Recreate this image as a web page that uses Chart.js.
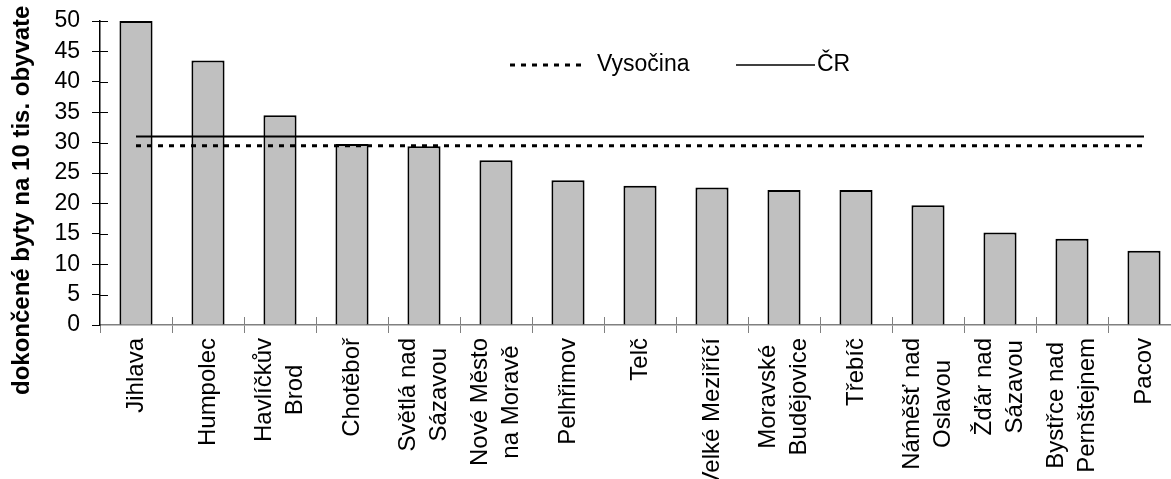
<!DOCTYPE html>
<html>
<head>
<meta charset="utf-8">
<script src="https://cdn.jsdelivr.net/npm/chart.js@4"></script>
<style>
html,body{margin:0;padding:0;background:#fff;overflow:hidden}
#wrap{width:1180px;height:479px;position:relative}
</style>
</head>
<body>
<div id="wrap"><canvas id="bytyChart"></canvas></div>
<script>
// dokoncene byty na 10 tis. obyvatel podle mest
const mesta = [
  'Jihlava', 'Humpolec', ['Havlíčkův', 'Brod'], 'Chotěboř', ['Světlá nad', 'Sázavou'],
  ['Nové Město', 'na Moravě'], 'Pelhřimov', 'Telč', 'Velké Meziříčí', ['Moravské', 'Budějovice'],
  'Třebíč', ['Náměšť nad', 'Oslavou'], ['Žďár nad', 'Sázavou'], ['Bystřce nad', 'Pernštejnem'], 'Pacov'
];
const byty = [50.0, 43.5, 34.5, 29.75, 29.4, 27.1, 23.8, 22.9, 22.6, 22.2, 22.2, 19.7, 15.2, 14.2, 12.2];
const vysocina = [29.5, 29.5, 29.5, 29.5, 29.5, 29.5, 29.5, 29.5, 29.5, 29.5, 29.5, 29.5, 29.5, 29.5, 29.5];
const cr = [31.0, 31.0, 31.0, 31.0, 31.0, 31.0, 31.0, 31.0, 31.0, 31.0, 31.0, 31.0, 31.0, 31.0, 31.0];
const osaY = [0, 5, 10, 15, 20, 25, 30, 35, 40, 45, 50];
const nazevOsy = 'dokončené byty na 10 tis. obyvatel';

const pismo = 'Arial, "Liberation Sans", sans-serif';

// popisek osy y - horni konec je oriznuty jako v originale
const popisOsy = {
  id: 'popisOsy',
  afterDraw(chart) {
    const ctx = chart.ctx;
    ctx.save();
    ctx.beginPath();
    ctx.rect(0, 5, 60, 474);
    ctx.clip();
    ctx.translate(22, 395);
    ctx.rotate(-Math.PI / 2);
    ctx.font = 'bold 24px ' + pismo;
    ctx.fillStyle = '#000';
    ctx.textAlign = 'left';
    ctx.textBaseline = 'middle';
    ctx.fillText(nazevOsy, 0, 0);
    ctx.restore();
  }
};

// popisky kategorii - radky vystredene, blok zarovnany nahoru
const popiskyX = {
  id: 'popiskyX',
  afterDraw(chart) {
    const ctx = chart.ctx, x = chart.scales.x;
    const vrch = x.top + 13, rad = 31;
    ctx.save();
    ctx.font = '24px ' + pismo;
    ctx.fillStyle = '#000';
    ctx.textAlign = 'center';
    ctx.textBaseline = 'middle';
    mesta.forEach((m, i) => {
      const radky = Array.isArray(m) ? m : [m];
      const sirka = Math.max(...radky.map(r => ctx.measureText(r).width));
      const cx = x.getPixelForValue(i);
      radky.forEach((r, j) => {
        ctx.save();
        ctx.translate(cx + (j - (radky.length - 1) / 2) * rad, vrch + sirka / 2);
        ctx.rotate(-Math.PI / 2);
        ctx.fillText(r, 0, 0);
        ctx.restore();
      });
    });
    ctx.restore();
  }
};

// legenda uvnitr grafu
const legenda = {
  id: 'legenda',
  afterDraw(chart) {
    const ctx = chart.ctx;
    ctx.save();
    ctx.strokeStyle = '#000';
    ctx.lineWidth = 3;
    ctx.setLineDash([5, 6]);
    ctx.beginPath(); ctx.moveTo(510, 65); ctx.lineTo(587, 65); ctx.stroke();
    ctx.setLineDash([]);
    ctx.lineWidth = 1.5;
    ctx.beginPath(); ctx.moveTo(736, 65); ctx.lineTo(815, 65); ctx.stroke();
    ctx.font = '23px ' + pismo;
    ctx.fillStyle = '#000';
    ctx.textBaseline = 'middle';
    ctx.fillText('Vysočina', 597, 65);
    ctx.fillText('ČR', 817, 65);
    ctx.restore();
  }
};

// znacky pres osu (dovnitr grafu)
const krizky = {
  id: 'krizky',
  afterDatasetsDraw(chart) {
    const ctx = chart.ctx, x = chart.scales.x, y = chart.scales.y;
    ctx.save();
    ctx.lineWidth = 1;
    ctx.strokeStyle = '#000';
    osaY.forEach(v => {
      if (v === 0) return;
      const py = Math.round(y.getPixelForValue(v)) + 0.5;
      ctx.beginPath(); ctx.moveTo(y.right, py); ctx.lineTo(y.right + 8, py); ctx.stroke();
    });
    ctx.strokeStyle = '#808080';
    const w = (x.right - x.left) / mesta.length;
    for (let i = 1; i <= mesta.length; i++) {
      const px = Math.round(x.left + i * w) + 0.5;
      ctx.beginPath(); ctx.moveTo(px, x.top - 8); ctx.lineTo(px, x.top); ctx.stroke();
    }
    ctx.restore();
  }
};

new Chart(document.getElementById('bytyChart'), {
  type: 'bar',
  data: {
    labels: mesta,
    datasets: [
      {
        type: 'line', label: 'ČR', data: cr,
        borderColor: '#000', borderWidth: 1.8, pointRadius: 0, fill: false, order: 1
      },
      {
        type: 'line', label: 'Vysočina', data: vysocina,
        borderColor: '#000', borderWidth: 3, borderDash: [5, 6], pointRadius: 0, fill: false, order: 2
      },
      {
        label: 'byty', data: byty,
        backgroundColor: '#c0c0c0', borderColor: '#000', borderWidth: 2,
        categoryPercentage: 1, barPercentage: 0.46, order: 3
      }
    ]
  },
  options: {
    responsive: true,
    maintainAspectRatio: false,
    animation: false,
    layout: { padding: { top: 21, right: 0, left: 0, bottom: 0 } },
    plugins: { legend: { display: false }, tooltip: { enabled: false } },
    scales: {
      x: {
        afterFit(s) { s.height = 154; },
        grid: { display: true, drawOnChartArea: false, offset: true, tickLength: 8, color: '#808080', lineWidth: 1 },
        border: { display: true, color: '#808080', width: 1.5 },
        ticks: { display: false }
      },
      y: {
        min: 0, max: 50,
        afterFit(s) { s.width = 100; s.paddingTop = 0; s.paddingBottom = 0; },
        grid: { display: true, drawOnChartArea: false, tickLength: 8, color: '#000', lineWidth: 1 },
        border: { display: true, color: '#000', width: 1.5 },
        ticks: { stepSize: 5, autoSkip: false, padding: 12, color: '#000', font: { family: pismo, size: 23 } }
      }
    }
  },
  plugins: [popisOsy, popiskyX, legenda, krizky]
});
</script>
</body>
</html>
